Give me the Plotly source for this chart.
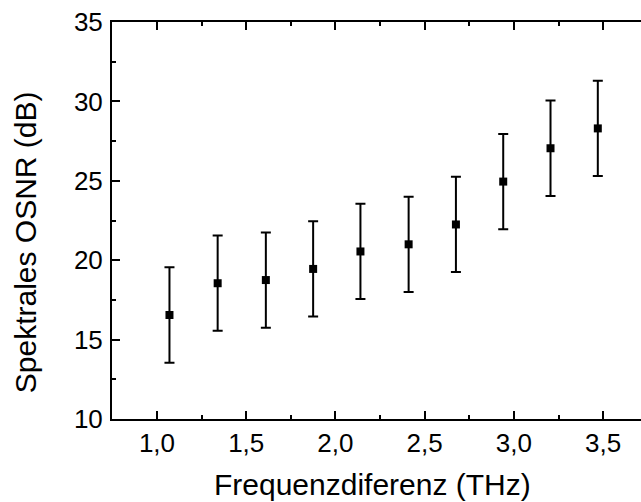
import plotly.graph_objects as go

freq_thz = [1.07, 1.34, 1.61, 1.875, 2.14, 2.41, 2.675, 2.94, 3.205, 3.47]
osnr_db = [16.55, 18.55, 18.75, 19.45, 20.55, 21.0, 22.25, 24.95, 27.05, 28.3]
osnr_err = [3.0, 3.0, 3.0, 3.0, 3.0, 3.0, 3.0, 3.0, 3.0, 3.0]

x_title = "Frequenzdiferenz (THz)"
y_title = "Spektrales OSNR (dB)"

FONT = "Liberation Sans, Arial, Helvetica, sans-serif"

fig = go.Figure()
fig.add_trace(go.Scatter(
    x=freq_thz, y=osnr_db, mode="markers",
    marker=dict(symbol="square", size=8, color="black"),
    error_y=dict(type="data", array=osnr_err, visible=True,
                 color="black", thickness=2, width=5),
    showlegend=False,
))
# dummy trace to activate top axis
fig.add_trace(go.Scatter(x=[freq_thz[0]], y=[osnr_db[0]], xaxis="x2",
                         mode="markers", marker=dict(opacity=0),
                         showlegend=False, hoverinfo="skip"))

xr = [0.748, 3.712]
fig.update_layout(
    width=641, height=502,
    margin=dict(l=112, r=0, t=22, b=83),
    paper_bgcolor="white", plot_bgcolor="white",
    separators=", ",
    font=dict(family=FONT, size=26, color="black"),
    xaxis=dict(range=xr, showline=True, linecolor="black", linewidth=2,
               ticks="inside", ticklen=8, tickwidth=1.5, tickcolor="black",
               tick0=0, dtick=0.5, tickformat=".1f", showgrid=False, zeroline=False,
               minor=dict(ticks="inside", ticklen=4, tickwidth=1.5, dtick=0.25, tick0=0,
                          tickcolor="black", showgrid=False),
               tickfont=dict(size=26)),
    xaxis2=dict(range=xr, overlaying="x", side="top", showline=True, linecolor="black",
                linewidth=2, ticks="inside", ticklen=8, tickwidth=1.5, tickcolor="black",
                tick0=0, dtick=0.5, showticklabels=False, showgrid=False, zeroline=False,
                minor=dict(ticks="inside", ticklen=4, tickwidth=1.5, dtick=0.25, tick0=0,
                           tickcolor="black", showgrid=False)),
    yaxis=dict(range=[10, 35], showline=True, linecolor="black", linewidth=2,
               ticks="inside", ticklen=8, tickwidth=1.5, tickcolor="black",
               tick0=0, dtick=5, showgrid=False, zeroline=False,
               ticklabelstandoff=2,
               minor=dict(ticks="inside", ticklen=4, tickwidth=1.5, dtick=2.5, tick0=0,
                          tickcolor="black", showgrid=False),
               tickfont=dict(size=26)),
    annotations=[
        dict(text=x_title, xref="paper", yref="paper", x=0.4915, y=-0.166,
             xanchor="center", yanchor="middle", showarrow=False,
             font=dict(size=30, family=FONT, color="black")),
        dict(text=y_title, xref="paper", yref="paper", x=-0.162, y=0.446,
             xanchor="center", yanchor="middle", showarrow=False, textangle=-90,
             font=dict(size=30, family=FONT, color="black")),
    ],
)

fig.write_html("out.html")
